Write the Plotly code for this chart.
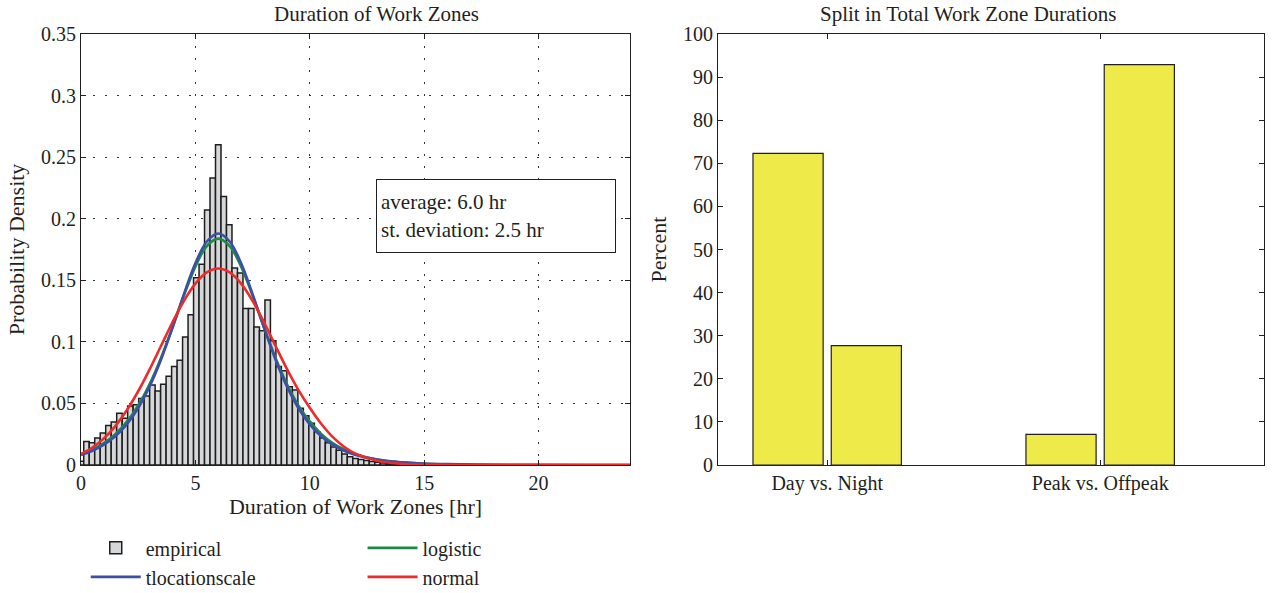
import plotly.graph_objects as go
from plotly.subplots import make_subplots

# ---- Left panel: empirical histogram (bin width 0.24 hr, centres at k*0.24) ----
bin_width = 0.24
empirical_density = [
    0.003, 0.019, 0.018, 0.022, 0.026, 0.032, 0.035, 0.042, 0.038, 0.048,
    0.049, 0.054, 0.056, 0.065, 0.060, 0.0655, 0.072, 0.080, 0.085, 0.104,
    0.122, 0.152, 0.163, 0.207, 0.233, 0.260, 0.218, 0.195, 0.160, 0.156,
    0.127, 0.127, 0.112, 0.109, 0.134, 0.101, 0.080, 0.0765, 0.0636, 0.061,
    0.046, 0.040, 0.034, 0.027, 0.022, 0.018, 0.0147, 0.012, 0.009, 0.0068,
    0.0052, 0.0044, 0.0036, 0.0028, 0.0022, 0.0017, 0.0013, 0.0010, 0.0008, 0.0006,
    0.0005, 0.0004, 0.0003, 0.0003, 0.0002, 0.0002,
]
bin_centers = [round(k * bin_width, 2) for k in range(len(empirical_density))]

# ---- Fitted density curves ----
curve_x = [0, 0.5, 1, 1.5, 2, 2.5, 3, 3.5, 4, 4.5, 5, 5.5, 6, 6.5, 7, 7.5, 8, 8.5,
           9, 9.5, 10, 10.5, 11, 11.5, 12, 13, 14, 15, 16, 18, 20, 22, 24]
tlocationscale_y = [0.0082, 0.0116, 0.0165, 0.0234, 0.0330, 0.0463, 0.0638, 0.0857,
                    0.1116, 0.1388, 0.1638, 0.1815, 0.1880, 0.1815, 0.1638, 0.1388,
                    0.1116, 0.0857, 0.0638, 0.0463, 0.0330, 0.0234, 0.0165, 0.0116,
                    0.0082, 0.0042, 0.0022, 0.0012, 0.0007, 0.0002, 0.0001, 0.00005, 0.00003]
logistic_y = [0.0087, 0.0125, 0.0177, 0.0250, 0.0350, 0.0484, 0.0657, 0.0871,
              0.1117, 0.1376, 0.1611, 0.1778, 0.1838, 0.1778, 0.1611, 0.1376,
              0.1117, 0.0871, 0.0657, 0.0484, 0.0355, 0.0253, 0.0179, 0.0126,
              0.0088, 0.0042, 0.0021, 0.0010, 0.0005, 0.0001, 0.00003, 0.0, 0.0]
normal_y = [0.0090, 0.0142, 0.0216, 0.0316, 0.0444, 0.0599, 0.0777, 0.0968,
            0.1159, 0.1333, 0.1473, 0.1564, 0.1596, 0.1564, 0.1473, 0.1333,
            0.1159, 0.0968, 0.0780, 0.0610, 0.0465, 0.0335, 0.0228, 0.0148,
            0.0092, 0.0032, 0.0010, 0.0002, 0.00005, 0.0, 0.0, 0.0, 0.0]

x_ticks = [0, 5, 10, 15, 20]
y_ticks = [0, 0.05, 0.1, 0.15, 0.2, 0.25, 0.3, 0.35]
y_tick_labels = ["0", "0.05", "0.1", "0.15", "0.2", "0.25", "0.3", "0.35"]

# ---- Right panel: split in durations ----
split_categories = ["Day vs. Night", "Peak vs. Offpeak"]
split_first = [72.3, 7.1]
split_second = [27.7, 92.9]
pct_ticks = [0, 10, 20, 30, 40, 50, 60, 70, 80, 90, 100]

FONT = "Liberation Serif"
TXT = "#231f20"

fig = make_subplots(rows=1, cols=2, horizontal_spacing=0.0,
                    subplot_titles=["Duration of Work Zones",
                                    "Split in Total Work Zone Durations"])

fig.add_trace(go.Bar(x=bin_centers, y=empirical_density, width=bin_width,
                     marker=dict(color="#d6d7d9", line=dict(color="#1e1e1e", width=1.5)),
                     name="empirical", legend="legend"), row=1, col=1)
fig.add_trace(go.Scatter(x=curve_x, y=logistic_y, mode="lines", name="logistic",
                         line=dict(color="#1e8a45", width=2.6, shape="spline"),
                         legend="legend2"), row=1, col=1)
fig.add_trace(go.Scatter(x=curve_x, y=tlocationscale_y, mode="lines", name="tlocationscale",
                         line=dict(color="#3b4fa8", width=2.6, shape="spline"),
                         legend="legend"), row=1, col=1)
fig.add_trace(go.Scatter(x=curve_x, y=normal_y, mode="lines", name="normal",
                         line=dict(color="#ee2a2a", width=2.6, shape="spline"),
                         legend="legend2"), row=1, col=1)

fig.add_trace(go.Bar(x=split_categories, y=split_first, width=0.257, offset=-0.272,
                     marker=dict(color="#eeea4a", line=dict(color="#231f20", width=1.2)),
                     showlegend=False), row=1, col=2)
fig.add_trace(go.Bar(x=split_categories, y=split_second, width=0.257, offset=0.0147,
                     marker=dict(color="#eeea4a", line=dict(color="#231f20", width=1.2)),
                     showlegend=False), row=1, col=2)

axis_common = dict(showline=True, linecolor="#231f20", linewidth=1.2, mirror="allticks",
                   ticks="inside", ticklen=5, tickcolor="#231f20",
                   tickfont=dict(family=FONT, size=20, color=TXT), zeroline=False)
title_font = dict(family=FONT, size=22, color=TXT)

fig.update_xaxes(**axis_common, row=1, col=1)
fig.update_yaxes(**axis_common, row=1, col=1)
fig.update_xaxes(range=[0, 24], tickvals=x_ticks, showgrid=True, gridcolor="#333",
                 griddash="2px,10px", gridwidth=1, domain=[0.0, 0.4641],
                 title=dict(text="Duration of Work Zones [hr]", standoff=4, font=title_font),
                 row=1, col=1)
fig.update_yaxes(range=[0, 0.35], tickvals=y_ticks, ticktext=y_tick_labels,
                 showgrid=True, gridcolor="#333", griddash="2px,10px", gridwidth=1,
                 title=dict(text="Probability Density", standoff=10, font=title_font),
                 row=1, col=1)

fig.update_xaxes(**axis_common, row=1, col=2)
fig.update_yaxes(**axis_common, row=1, col=2)
fig.update_xaxes(range=[-0.4, 1.6], showgrid=False, domain=[0.5385, 1.0], row=1, col=2)
fig.update_yaxes(range=[0, 100], tickvals=pct_ticks, showgrid=False,
                 title=dict(text="Percent", standoff=10, font=title_font),
                 row=1, col=2)

for ann in fig.layout.annotations:
    ann.font = dict(family=FONT, size=21, color=TXT)
    ann.yshift = 6

fig.add_annotation(x=12.9, y=0.232, xref="x", yref="y", xanchor="left", yanchor="top",
                   text="average: 6.0 hr<br>st. deviation: 2.5 hr", align="left",
                   showarrow=False, bordercolor="#231f20", borderwidth=1, borderpad=4,
                   bgcolor="white", width=230, height=64,
                   font=dict(family=FONT, size=21, color=TXT))

legend_common = dict(orientation="v", xanchor="left", y=-0.147, yanchor="top",
                     font=dict(family=FONT, size=20, color=TXT), itemwidth=50,
                     tracegroupgap=0, bgcolor="rgba(0,0,0,0)", traceorder="normal")

fig.update_layout(
    width=1272, height=593,
    margin=dict(l=81, r=8, t=34, b=128, autoexpand=False),
    paper_bgcolor="white", plot_bgcolor="white",
    barmode="overlay",
    font=dict(family=FONT, size=20, color=TXT),
    legend=dict(x=0.004, **legend_common),
    legend2=dict(x=0.238, **legend_common),
)

fig.write_html("out.html")
